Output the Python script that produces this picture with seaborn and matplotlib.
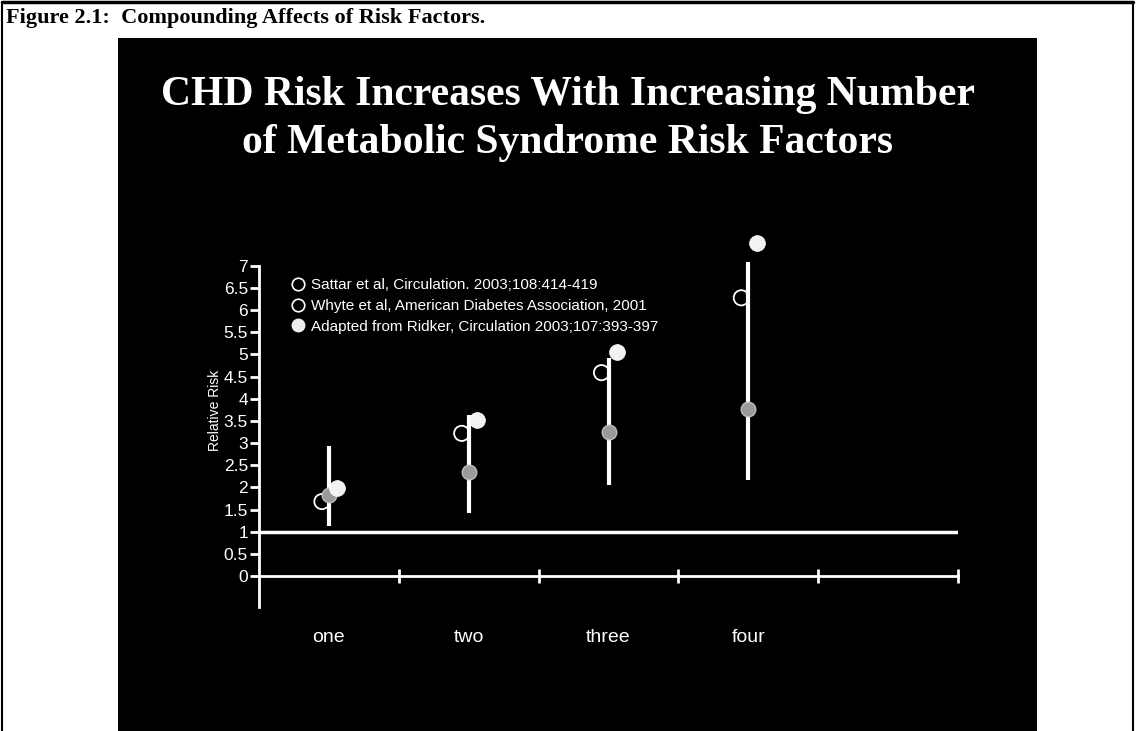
import numpy as np
import pandas as pd
import matplotlib
matplotlib.use("Agg")
import matplotlib.pyplot as plt
import seaborn as sns
from matplotlib.lines import Line2D
from matplotlib.patches import Rectangle

# ---------------- data ----------------
categories = ["one", "two", "three", "four"]
sattar_rr = [1.83, 2.35, 3.26, 3.76]
sattar_lo = [1.13, 1.42, 2.05, 2.17]
sattar_hi = [2.93, 3.63, 4.92, 7.09]
whyte_rr = [1.68, 3.22, 4.59, 6.28]
ridker_rr = [1.99, 3.52, 5.06, 7.51]
yticks = [0, 0.5, 1, 1.5, 2, 2.5, 3, 3.5, 4, 4.5, 5, 5.5, 6, 6.5, 7]
ytick_labels = ["0", "0.5", "1", "1.5", "2", "2.5", "3", "3.5", "4",
                "4.5", "5", "5.5", "6", "6.5", "7"]
legend_labels = ["Sattar et al, Circulation. 2003;108:414-419",
                 "Whyte et al, American Diabetes Association, 2001",
                 "Adapted from Ridker, Circulation 2003;107:393-397"]
title_lines = ["CHD Risk Increases With Increasing Number",
               "of Metabolic Syndrome Risk Factors"]
header = "Figure 2.1:  Compounding Affects of Risk Factors."
ylabel = "Relative Risk"

# ---------------- style ----------------
sns.set_theme(style="white")
plt.rcParams["font.family"] = ["Liberation Sans", "DejaVu Sans"]

W, H = 1136, 731
fig = plt.figure(figsize=(W / 100, H / 100), dpi=100)
fig.patch.set_facecolor("white")

# black slide panel
fig.add_artist(Rectangle((118 / W, 0), (1037 - 118) / W, (731 - 38) / H,
                         transform=fig.transFigure, facecolor="black",
                         edgecolor="none", zorder=0))
# document borders
fig.add_artist(Line2D([2 / W, 1133 / W], [1 - 2 / H, 1 - 2 / H],
                      transform=fig.transFigure, color="black", lw=2.5))
fig.add_artist(Line2D([2 / W, 2 / W], [0, 1 - 2 / H],
                      transform=fig.transFigure, color="black", lw=1.5))
fig.add_artist(Line2D([1133 / W, 1133 / W], [0, 1 - 2 / H],
                      transform=fig.transFigure, color="black", lw=1.5))

fig.text(6 / W, 1 - 18 / H, header, ha="left", va="center",
         fontsize=16, fontweight="bold", family="Liberation Serif", color="black")
fig.text(568 / W, 1 - 95 / H, title_lines[0], ha="center", va="center",
         fontsize=30, fontweight="bold", family="Liberation Serif", color="white")
fig.text(568 / W, 1 - 143 / H, title_lines[1], ha="center", va="center",
         fontsize=30, fontweight="bold", family="Liberation Serif", color="white")

# ---------------- axes ----------------
ax = fig.add_axes([259 / W, (731 - 607) / H, (958 - 259) / W, (607 - 221.6) / H])
ax.set_facecolor("none")
ax.set_xlim(-0.5, 4.5)
ax.set_ylim(-0.7, 8.0)

xpos = np.arange(len(categories))
df = pd.DataFrame({"x": xpos, "sattar": sattar_rr, "lo": sattar_lo,
                   "hi": sattar_hi, "whyte": whyte_rr, "ridker": ridker_rr})

ax.axhline(1, color="white", lw=2.5, zorder=1)
ax.vlines(df["x"], df["lo"], df["hi"], color="white", lw=3, zorder=2)

sns.scatterplot(x=df["x"] - 0.05, y=df["whyte"], ax=ax, s=120, marker="o",
                facecolor="none", edgecolor="white", linewidth=1.3,
                legend=False, zorder=3)
sns.scatterplot(x=df["x"], y=df["sattar"], ax=ax, s=110, marker="o",
                color="#9a9a9a", edgecolor="#bdbdbd", linewidth=1,
                legend=False, zorder=4)
sns.scatterplot(x=df["x"] + 0.06, y=df["ridker"], ax=ax, s=130, marker="o",
                color="#f2f2f2", edgecolor="white", linewidth=0.5,
                legend=False, zorder=5)

for s in ["top", "right"]:
    ax.spines[s].set_visible(False)
ax.spines["left"].set_bounds(-0.7, 7)
ax.spines["left"].set_color("white")
ax.spines["left"].set_linewidth(2)
ax.spines["bottom"].set_position(("data", 0))
ax.spines["bottom"].set_bounds(-0.5, 4.5)
ax.spines["bottom"].set_color("white")
ax.spines["bottom"].set_linewidth(2)

ax.set_yticks(yticks)
ax.set_yticklabels(ytick_labels)
ax.tick_params(axis="y", direction="out", length=6.5, width=2, color="white",
               labelcolor="white", labelsize=12.5, pad=1.5, left=True)
ax.set_xticks([0.5, 1.5, 2.5, 3.5, 4.5])
ax.set_xticklabels([])
ax.tick_params(axis="x", which="major", direction="inout", length=10, width=2,
               color="white", bottom=True)
ax.set_xticks(xpos, minor=True)
ax.set_xticklabels(categories, minor=True)
ax.tick_params(axis="x", which="minor", length=0, pad=38, labelsize=14,
               labelcolor="white")
ax.set_xlabel("")
ax.set_ylabel(ylabel, color="white", fontsize=10)
ax.yaxis.set_label_coords(-0.053, 0.511)
ax.grid(False)

handles = [
    Line2D([], [], ls="none", marker="o", markersize=9, markerfacecolor="none",
           markeredgecolor="white", markeredgewidth=1.2),
    Line2D([], [], ls="none", marker="o", markersize=9, markerfacecolor="none",
           markeredgecolor="white", markeredgewidth=1.2),
    Line2D([], [], ls="none", marker="o", markersize=9, markerfacecolor="#eeeeee",
           markeredgecolor="#eeeeee"),
]
leg = fig.legend(handles, legend_labels, loc="upper left",
                 bbox_to_anchor=(291 / W, 1 - 278 / H), frameon=False,
                 fontsize=11, labelcolor="white", handlelength=0.9,
                 handletextpad=0.4, labelspacing=0.45, borderpad=0,
                 borderaxespad=0)

fig.savefig("out.png", dpi=100)
